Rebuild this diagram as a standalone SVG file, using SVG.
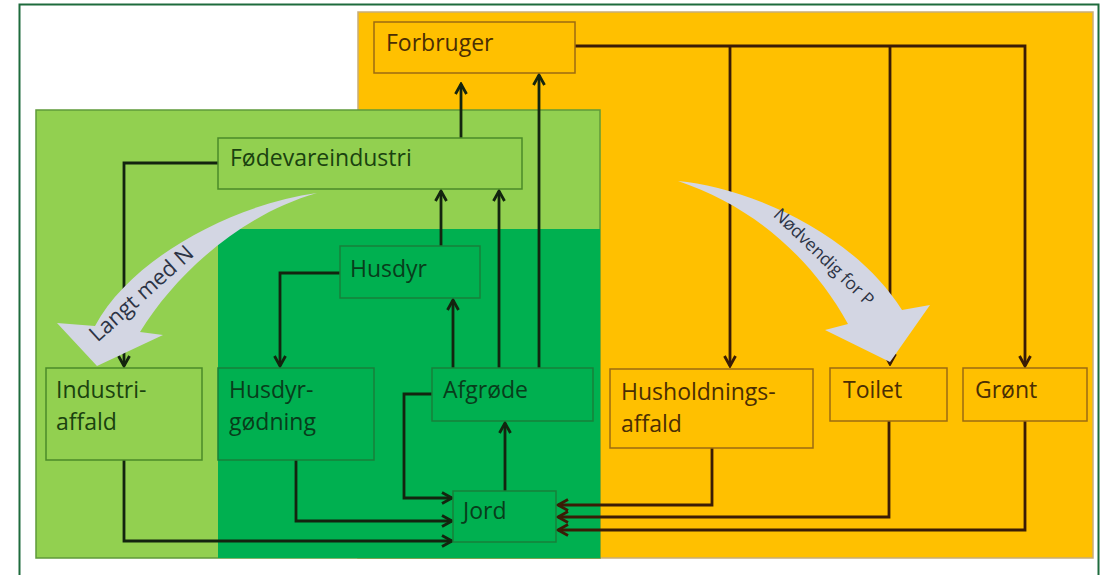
<svg xmlns="http://www.w3.org/2000/svg" width="1112" height="575" viewBox="0 0 1112 575">
<defs>
<style>
.lbl{font-family:"Open Sans","Liberation Sans",sans-serif;font-size:23px}
.og{fill:#FFC000;stroke:#9c6b12;stroke-width:1.5}
.lg{fill:#92D050;stroke:#4b8a28;stroke-width:1.5}
.dg{fill:#00B050;stroke:#17803a;stroke-width:1.5}
.t-og{fill:#4a2e04}
.t-lg{fill:#1a420f}
.t-dg{fill:#083d1b}
.cg{fill:none;stroke:#13240f;stroke-width:2.8}
.co{fill:none;stroke:#3a1c06;stroke-width:2.8}
.big{fill:#d3d6e3}
.bt{font-family:"Open Sans","Liberation Sans",sans-serif;fill:#2c3345}
</style>
<marker id="ag" viewBox="0 0 14 14" refX="12" refY="7" markerWidth="14" markerHeight="14" markerUnits="userSpaceOnUse" orient="auto">
<path d="M2,1.5 L12,7 L2,12.5" fill="none" stroke="#13240f" stroke-width="2.8"/>
</marker>
<marker id="ao" viewBox="0 0 14 14" refX="12" refY="7" markerWidth="14" markerHeight="14" markerUnits="userSpaceOnUse" orient="auto">
<path d="M2,1.5 L12,7 L2,12.5" fill="none" stroke="#3a1c06" stroke-width="2.8"/>
</marker>
</defs>
<rect x="0" y="0" width="1112" height="575" fill="#ffffff"/>
<rect x="19.5" y="4.5" width="1079" height="580" fill="#ffffff" stroke="#1e6b3c" stroke-width="2"/>
<g id="regions">
<rect x="358" y="12" width="735" height="546" fill="#FFC000" stroke="#c7ad78" stroke-width="1.5"/>
<rect x="36" y="110" width="564" height="448" fill="#92D050" stroke="#5f9a3a" stroke-width="1.5"/>
<rect x="218" y="229" width="382" height="329" fill="#00B050"/>
</g>
<g id="connectors">
<path class="cg" d="M461,138 V84" marker-end="url(#ag)"/>
<path class="cg" d="M539,368 V75" marker-end="url(#ag)"/>
<path class="cg" d="M441,246 V191" marker-end="url(#ag)"/>
<path class="cg" d="M499,368 V191" marker-end="url(#ag)"/>
<path class="cg" d="M453,368 V300" marker-end="url(#ag)"/>
<path class="cg" d="M218,163 H124 V366" marker-end="url(#ag)"/>
<path class="cg" d="M340,273 H280 V366" marker-end="url(#ag)"/>
<path class="cg" d="M124,460 V541 H452" marker-end="url(#ag)"/>
<path class="cg" d="M296,460 V521 H452" marker-end="url(#ag)"/>
<path class="cg" d="M432,394 H404 V498 H452" marker-end="url(#ag)"/>
<path class="cg" d="M505,491 V423" marker-end="url(#ag)"/>
<path class="co" d="M712,448 V505 H558" marker-end="url(#ao)"/>
<path class="co" d="M889,421 V517 H558" marker-end="url(#ao)"/>
<path class="co" d="M1025,421 V530 H558" marker-end="url(#ao)"/>
<path class="co" d="M575,46 H1025 V366" marker-end="url(#ao)"/>
<path class="co" d="M730,46 V366" marker-end="url(#ao)"/>
<path class="co" d="M890,46 V364" marker-end="url(#ao)"/>
</g>
<g id="forbruger">
<rect class="og" x="374" y="22" width="201" height="51"/>
<text class="lbl t-og" x="386" y="51">Forbruger</text>
</g>
<g id="foedevareindustri">
<rect class="lg" x="218" y="138" width="304" height="51"/>
<text class="lbl t-lg" x="230" y="166">Fødevareindustri</text>
</g>
<g id="husdyr">
<rect class="dg" x="340" y="246" width="140" height="52"/>
<text class="lbl t-dg" x="350" y="277">Husdyr</text>
</g>
<g id="industriaffald">
<rect class="lg" x="46" y="368" width="156" height="92"/>
<text class="lbl t-lg" x="56" y="398">Industri-</text>
<text class="lbl t-lg" x="56" y="430">affald</text>
</g>
<g id="husdyrgoedning">
<rect class="dg" x="218" y="368" width="156" height="92"/>
<text class="lbl t-dg" x="229" y="398">Husdyr-</text>
<text class="lbl t-dg" x="229" y="430">gødning</text>
</g>
<g id="afgroede">
<rect class="dg" x="432" y="368" width="161" height="53"/>
<text class="lbl t-dg" x="443" y="398">Afgrøde</text>
</g>
<g id="jord">
<rect class="dg" x="453" y="491" width="103" height="51"/>
<text class="lbl t-dg" x="463" y="519">Jord</text>
</g>
<g id="husholdningsaffald">
<rect class="og" x="610" y="369" width="203" height="79"/>
<text class="lbl t-og" x="621" y="400">Husholdnings-</text>
<text class="lbl t-og" x="621" y="432">affald</text>
</g>
<g id="toilet">
<rect class="og" x="830" y="368" width="117" height="53"/>
<text class="lbl t-og" x="843" y="398">Toilet</text>
</g>
<g id="groent">
<rect class="og" x="963" y="368" width="124" height="53"/>
<text class="lbl t-og" x="975" y="398">Grønt</text>
</g>
<g id="arrow-langt-med-n">
<path class="big" d="M317,193 C230,205 130,260 95,326 L57,323 L97,366 L163,335 L140,332 C175,275 240,215 317,193 Z"/>
<text class="bt" font-size="22" text-anchor="middle" transform="translate(141,293) rotate(-42)" x="0" y="8">Langt med N</text>
</g>
<g id="arrow-noedvendig-for-p">
<path class="big" d="M678,181 C740,186 850,228 902,310 L930,305 L890,362 L825,330 L848,324 C810,255 750,205 678,181 Z"/>
<text class="bt" font-size="17.5" text-anchor="middle" transform="translate(824,257) rotate(44)" x="0" y="6">Nødvendig for P</text>
</g>
</svg>
